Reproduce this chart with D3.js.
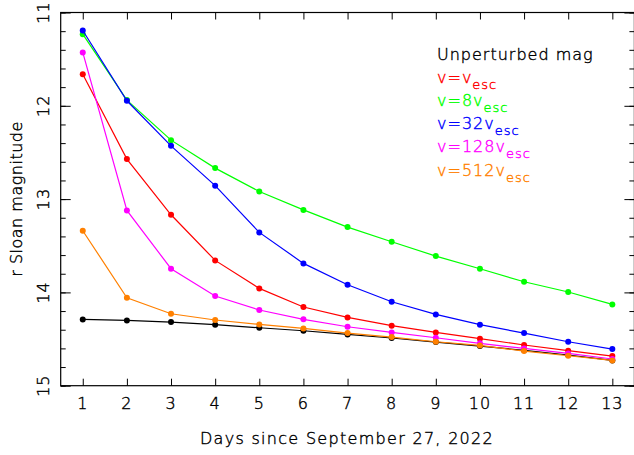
<!DOCTYPE html>
<html><head><meta charset="utf-8">
<script src="https://cdn.jsdelivr.net/npm/d3@7"></script>
<style>
body{margin:0;background:#fff;}
svg{display:block;}
text{font-family:"DejaVu Sans",sans-serif;font-weight:200;stroke-width:0.4;}
</style></head>
<body>
<svg id="chart" width="634" height="455"></svg>
<script>
const days = [1,2,3,4,5,6,7,8,9,10,11,12,13];
const unperturbed = [14.29,14.30,14.318,14.346,14.379,14.411,14.45,14.489,14.532,14.575,14.621,14.671,14.729];
const v1 = [11.661,12.571,13.168,13.657,13.957,14.157,14.268,14.357,14.429,14.496,14.564,14.625,14.682];
const v8 = [11.232,11.939,12.368,12.668,12.918,13.116,13.30,13.457,13.611,13.746,13.886,13.996,14.129];
const v32 = [11.193,11.946,12.429,12.856,13.357,13.689,13.918,14.10,14.236,14.346,14.436,14.529,14.607];
const v128 = [11.428,13.121,13.746,14.039,14.189,14.289,14.368,14.429,14.486,14.546,14.60,14.654,14.714];
const v512 = [13.339,14.057,14.229,14.296,14.343,14.386,14.436,14.479,14.529,14.568,14.629,14.679,14.729];
const seriesNames = ["Unperturbed mag","v=v","v=8v","v=32v","v=128v","v=512v"];
const seriesColors = ["#000000","#ff0000","#00ff00","#0000ff","#ff00ff","#ff8000"];
const yTicks = [11,12,13,14,15];
const xLabel = "Days since September 27, 2022";
const yLabel = "r Sloan magnitude";

const svg = d3.select("#chart");
const x = d3.scaleLinear().domain([0.5,13.5]).range([60.7,634.4]);
const y = d3.scaleLinear().domain([11,15]).range([12.5,385.7]);
const minorY = d3.range(11,15.001,0.2).map(v=>+v.toFixed(1));

svg.append("rect").attr("x",x(0.5)).attr("y",y(11)).attr("width",x(13.5)-x(0.5)).attr("height",y(15)-y(11))
  .attr("fill","none").attr("stroke","#000").attr("stroke-width",1.2);

function styleAxis(g){ g.select(".domain").remove(); g.selectAll("line").attr("stroke","#000").attr("stroke-width",1); g.selectAll("text").remove(); }
svg.append("g").attr("transform",`translate(0,${y(15)})`).call(d3.axisBottom(x).tickValues(days).tickSize(-7)).call(styleAxis);
svg.append("g").attr("transform",`translate(0,${y(11)})`).call(d3.axisTop(x).tickValues(days).tickSize(-7)).call(styleAxis);
svg.append("g").attr("transform",`translate(${x(0.5)},0)`).call(d3.axisLeft(y).tickValues(minorY).tickSize(-5)).call(styleAxis);
svg.append("g").attr("transform",`translate(${x(0.5)},0)`).call(d3.axisLeft(y).tickValues(yTicks).tickSize(-10)).call(styleAxis);
svg.append("g").attr("transform",`translate(${x(13.5)},0)`).call(d3.axisRight(y).tickValues(minorY).tickSize(-5)).call(styleAxis);
svg.append("g").attr("transform",`translate(${x(13.5)},0)`).call(d3.axisRight(y).tickValues(yTicks).tickSize(-10)).call(styleAxis);

svg.append("g").selectAll("text").data(days).join("text")
  .attr("x",d=>x(d)).attr("y",408.5).attr("text-anchor","middle").attr("font-size",16).attr("letter-spacing",1)
  .attr("fill","#000").attr("stroke","#000").text(d=>d);
svg.append("g").selectAll("text").data(yTicks).join("text")
  .attr("transform",d=>`translate(48.5,${y(d)}) rotate(-90)`).attr("text-anchor","middle").attr("font-size",16).attr("letter-spacing",1)
  .attr("fill","#000").attr("stroke","#000").text(d=>d);

svg.append("text").attr("x",347).attr("y",444).attr("text-anchor","middle").attr("font-size",16).attr("letter-spacing",1.3)
  .attr("fill","#000").attr("stroke","#000").text(xLabel);
svg.append("text").attr("transform",`translate(22,199) rotate(-90)`).attr("text-anchor","middle").attr("font-size",16).attr("letter-spacing",0.5)
  .attr("fill","#000").attr("stroke","#000").text(yLabel);

const allSeries = [unperturbed,v1,v8,v32,v128,v512];
const line = d3.line().x((d,i)=>x(days[i])).y(d=>y(d));
const plotOrder = [0,2,3,1,4,5];
plotOrder.forEach(k=>{
  const g = svg.append("g");
  g.append("path").datum(allSeries[k]).attr("d",line).attr("fill","none").attr("stroke",seriesColors[k]).attr("stroke-width",1.2);
  g.selectAll("circle").data(allSeries[k]).join("circle").attr("cx",(d,i)=>x(days[i])).attr("cy",d=>y(d)).attr("r",3).attr("fill",seriesColors[k]);
});

const lg = svg.append("g");
const legendBase = [60,83,106,129,152,176];
seriesNames.forEach((n,i)=>{
  const t = lg.append("text").attr("x",437).attr("y",legendBase[i]).attr("font-size",16).attr("letter-spacing",1)
    .attr("fill",seriesColors[i]).attr("stroke",seriesColors[i]);
  t.append("tspan").text(n);
  if(i>0){ t.append("tspan").attr("dy",6).attr("font-size",13).text("esc"); }
});
</script>
</body></html>
